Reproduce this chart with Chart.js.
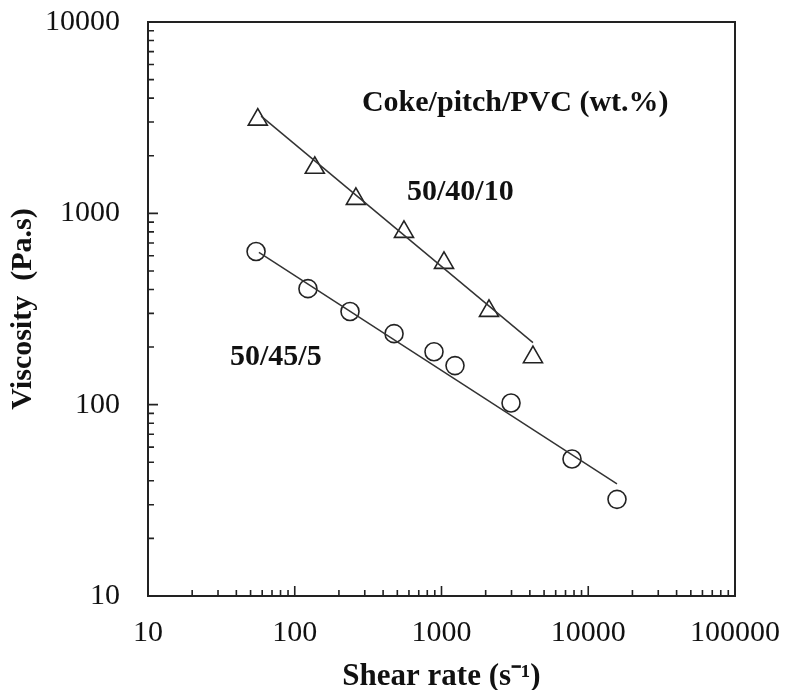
<!DOCTYPE html>
<html>
<head>
<meta charset="utf-8">
<script src="https://cdn.jsdelivr.net/npm/chart.js@4.4.1/dist/chart.umd.min.js"></script>
<style>
  html, body { margin: 0; padding: 0; background: #fff; }
  #wrap { width: 785px; height: 690px; }
</style>
</head>
<body>
<div id="wrap"><canvas id="viscosity"></canvas></div>
<script>
// 50/40/10 blend (triangles)
const shear4010 = [56, 137, 261, 555, 1040, 2107, 4200];
const visc4010 = [3090, 1730, 1190, 800, 551, 309, 177];
// 50/45/5 blend (circles)
const shear455 = [54.5, 123, 238, 475, 889, 1236, 2977, 7750, 15700];
const visc455 = [632, 404, 307, 235, 189, 160, 102, 52, 32];
// power-law fit lines (end points)
const fitShear4010 = [59, 4200];
const fitVisc4010 = [3220, 211];
const fitShear455 = [57, 15700];
const fitVisc455 = [625, 38.5];

const xMajor = [10, 100, 1000, 10000, 100000];
const yMajor = [10, 100, 1000, 10000];

const serif = "'Liberation Serif', 'Times New Roman', serif";
const ink = '#222';

const toXY = (xs, ys) => xs.map((x, i) => ({ x: x, y: ys[i] }));

const labels = [
  { text: 'Coke/pitch/PVC (wt.%)', x: 287, y: 3767 },
  { text: '50/40/10', x: 582, y: 1288 },
  { text: '50/45/5', x: 36.2, y: 176 },
];

const framePlugin = {
  id: 'frame',
  afterDatasetsDraw(chart) {
    const { ctx, chartArea: a, scales } = chart;
    ctx.save();
    ctx.strokeStyle = ink;
    ctx.lineWidth = 2;
    ctx.strokeRect(a.left, a.top, a.right - a.left, a.bottom - a.top);
    ctx.lineWidth = 1.6;
    ctx.beginPath();
    // inward ticks, major and minor
    for (let d = 10; d < 100000; d *= 10) {
      for (let m = 1; m <= 10; m++) {
        const v = d * m;
        const len = (m === 1 || m === 10) ? 10 : 6;
        const px = scales.x.getPixelForValue(v);
        ctx.moveTo(px, a.bottom);
        ctx.lineTo(px, a.bottom - len);
        if (d < 10000) {
          const py = scales.y.getPixelForValue(v);
          ctx.moveTo(a.left, py);
          ctx.lineTo(a.left + len, py);
        }
      }
    }
    ctx.stroke();
    ctx.fillStyle = '#111';
    ctx.font = 'bold 30px ' + serif;
    ctx.textBaseline = 'middle';
    ctx.textAlign = 'left';
    labels.forEach(l => {
      ctx.fillText(l.text, scales.x.getPixelForValue(l.x), scales.y.getPixelForValue(l.y));
    });
    ctx.restore();
  }
};

new Chart('viscosity', {
  type: 'scatter',
  data: {
    datasets: [
      {
        label: 'fit 50/40/10',
        data: toXY(fitShear4010, fitVisc4010),
        showLine: true,
        borderColor: '#333',
        borderWidth: 1.5,
        pointRadius: 0,
      },
      {
        label: 'fit 50/45/5',
        data: toXY(fitShear455, fitVisc455),
        showLine: true,
        borderColor: '#333',
        borderWidth: 1.5,
        pointRadius: 0,
      },
      {
        label: '50/40/10',
        data: toXY(shear4010, visc4010),
        pointStyle: 'triangle',
        pointRadius: 11,
        borderColor: ink,
        borderWidth: 1.6,
        backgroundColor: '#fff',
      },
      {
        label: '50/45/5',
        data: toXY(shear455, visc455),
        pointStyle: 'circle',
        pointRadius: 9,
        borderColor: ink,
        borderWidth: 1.6,
        backgroundColor: '#fff',
      },
    ],
  },
  options: {
    responsive: true,
    maintainAspectRatio: false,
    animation: false,
    layout: { padding: { left: 0, right: 50, top: 22, bottom: 0 } },
    plugins: {
      legend: { display: false },
      tooltip: { enabled: false },
    },
    scales: {
      x: {
        type: 'logarithmic',
        min: 10,
        max: 100000,
        grid: { display: false, drawTicks: false },
        border: { display: false },
        afterBuildTicks: s => { s.ticks = xMajor.map(v => ({ value: v })); },
        afterFit: s => { s.height = 94; s.paddingLeft = 0; s.paddingRight = 0; },
        ticks: {
          padding: 19,
          maxRotation: 0,
          color: '#111',
          font: { family: serif, size: 30 },
          callback: v => String(v),
        },
        title: {
          display: true,
          text: 'Shear rate (s\u207B\u00B9)',
          color: '#111',
          padding: { top: 0, bottom: -6 },
          font: { family: serif, size: 31, weight: 'bold' },
        },
      },
      y: {
        type: 'logarithmic',
        min: 10,
        max: 10000,
        grid: { display: false, drawTicks: false },
        border: { display: false },
        afterBuildTicks: s => { s.ticks = yMajor.map(v => ({ value: v })); },
        afterFit: s => { s.width = 148; s.paddingTop = 0; s.paddingBottom = 0; },
        ticks: {
          padding: 28,
          color: '#111',
          font: { family: serif, size: 30 },
          callback: v => String(v),
        },
        title: {
          display: true,
          text: 'Viscosity  (Pa.s)',
          color: '#111',
          padding: { top: 5, bottom: 0 },
          font: { family: serif, size: 30, weight: 'bold' },
        },
      },
    },
  },
  plugins: [framePlugin],
});
</script>
</body>
</html>
